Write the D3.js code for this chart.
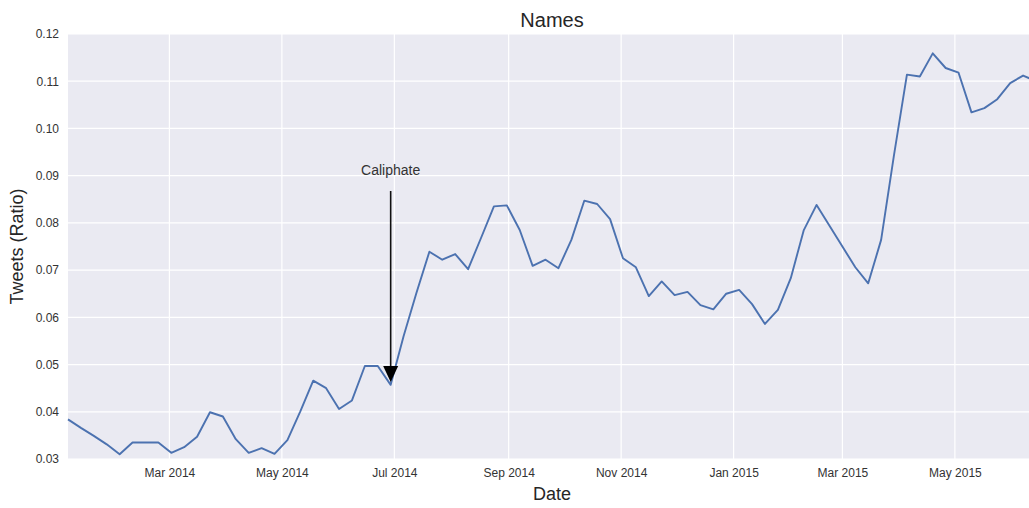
<!DOCTYPE html>
<html><head><meta charset="utf-8">
<script src="https://cdn.jsdelivr.net/npm/d3@7"></script>
<style>
html,body{margin:0;padding:0;background:#fff;overflow:hidden}
text{font-family:"Liberation Sans",Arial,Helvetica,sans-serif}
</style></head>
<body><svg id="chart" width="1029" height="508"></svg>
<script>
// ---- data ----
const title = "Names";
const xLabel = "Date";
const yLabel = "Tweets (Ratio)";
const firstWeek = "2014-01-05";   // weekly (Sunday) observations
const tweetRatio = [
  0.0384,0.0366,0.0349,0.0331,0.0310,0.0335,0.0335,0.0335,0.0313,0.0325,
  0.0347,0.0399,0.0390,0.0342,0.0313,0.0323,0.0311,0.0340,0.0401,0.0466,
  0.0450,0.0406,0.0424,0.0497,0.0497,0.0457,0.0560,0.0652,0.0739,0.0722,
  0.0734,0.0702,0.0768,0.0835,0.0837,0.0785,0.0709,0.0722,0.0704,0.0764,
  0.0847,0.0840,0.0808,0.0725,0.0706,0.0645,0.0676,0.0647,0.0654,0.0626,
  0.0617,0.0650,0.0658,0.0628,0.0586,0.0616,0.0683,0.0784,0.0838,0.0794,
  0.0750,0.0706,0.0672,0.0764,0.0944,0.1114,0.1110,0.1159,0.1128,0.1118,
  0.1034,0.1043,0.1062,0.1096,0.1112,0.1100
];
const yTicks = [0.03,0.04,0.05,0.06,0.07,0.08,0.09,0.10,0.11,0.12];
const xTickLabels = ["2014-03-01","2014-05-01","2014-07-01","2014-09-01","2014-11-01",
                     "2015-01-01","2015-03-01","2015-05-01"];
const annotationText = "Caliphate";
const annotationDate = "2014-06-29";
const annotationPoint = 0.0463;
const annotationTextValue = 0.0912;

// ---- build ----
(function(){
const parse = d3.utcParse("%Y-%m-%d");
const start = parse(firstWeek);
const series = tweetRatio.map((v,i)=>({date: d3.utcDay.offset(start, 7*i), value: v}));

const svg = d3.select("#chart");
const mLeft = 68, mTop = 34, mBottom = 459, mRight = 1036;

const x = d3.scaleUtc().domain(d3.extent(series, d=>d.date)).range([mLeft, mRight]);
const y = d3.scaleLinear().domain([0.03, 0.12]).range([mBottom, mTop]);

svg.append("rect").attr("x", mLeft).attr("y", mTop)
  .attr("width", mRight-mLeft).attr("height", mBottom-mTop).attr("fill", "#EAEAF2");

// grid
svg.append("g").selectAll("line").data(yTicks).join("line")
  .attr("x1", mLeft).attr("x2", mRight)
  .attr("y1", d=>y(d)).attr("y2", d=>y(d))
  .attr("stroke", "#fff").attr("stroke-width", 1.2);
const xTicks = xTickLabels.map(parse);
svg.append("g").selectAll("line").data(xTicks).join("line")
  .attr("x1", d=>x(d)).attr("x2", d=>x(d))
  .attr("y1", mTop).attr("y2", mBottom)
  .attr("stroke", "#fff").attr("stroke-width", 1.2);

// axes (labels only)
const yAxis = d3.axisLeft(y).tickValues(yTicks).tickFormat(d3.format(".2f")).tickSize(0).tickPadding(9);
const gy = svg.append("g").attr("transform", `translate(${mLeft},0)`).call(yAxis);
gy.select(".domain").remove();
gy.selectAll("text").attr("font-size", 12).attr("fill", "#333");

const xAxis = d3.axisBottom(x).tickValues(xTicks).tickFormat(d3.utcFormat("%b %Y")).tickSize(0).tickPadding(9);
const gx = svg.append("g").attr("transform", `translate(0,${mBottom})`).call(xAxis);
gx.select(".domain").remove();
gx.selectAll("text").attr("font-size", 12).attr("fill", "#333");

// line
const line = d3.line().x(d=>x(d.date)).y(d=>y(d.value));
svg.append("path").datum(series)
  .attr("d", line).attr("fill", "none")
  .attr("stroke", "#4C72B0").attr("stroke-width", 1.9)
  .attr("stroke-linejoin", "round");

// annotation
const ax = x(parse(annotationDate));
const tipY = y(annotationPoint);
const textY = y(annotationTextValue);
svg.append("text").attr("x", ax).attr("y", textY + 5)
  .attr("text-anchor", "middle").attr("font-size", 14).attr("fill", "#333")
  .text(annotationText);
svg.append("line").attr("x1", ax).attr("x2", ax)
  .attr("y1", textY + 21).attr("y2", tipY - 14)
  .attr("stroke", "#111").attr("stroke-width", 1.6);
svg.append("path")
  .attr("d", `M${ax-7.5},${tipY-16} L${ax+7.5},${tipY-16} L${ax},${tipY} Z`)
  .attr("fill", "#000");

// titles
svg.append("text").attr("x", (mLeft+mRight)/2).attr("y", 27)
  .attr("text-anchor", "middle").attr("font-size", 20).attr("fill", "#262626").text(title);
svg.append("text").attr("x", (mLeft+mRight)/2).attr("y", 500)
  .attr("text-anchor", "middle").attr("font-size", 18).attr("fill", "#262626").text(xLabel);
svg.append("text").attr("transform", `translate(23,${(mTop+mBottom)/2}) rotate(-90)`)
  .attr("text-anchor", "middle").attr("font-size", 18).attr("fill", "#262626").text(yLabel);
})();
</script></body></html>
